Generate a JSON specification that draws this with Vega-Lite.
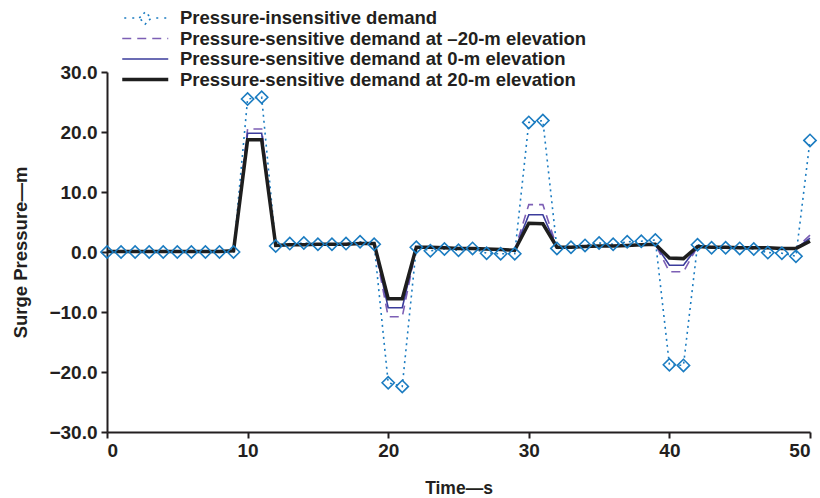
{
  "$schema": "https://vega.github.io/schema/vega-lite/v6.json",
  "width": 703,
  "height": 360,
  "autosize": {"type": "none"},
  "padding": {"left": 107, "top": 72, "right": 10, "bottom": 66},
  "background": "white",
  "config": {
    "view": {"stroke": null},
    "font": "Liberation Sans",
    "axis": {
      "domainColor": "#231f20",
      "domainWidth": 2,
      "tickColor": "#231f20",
      "tickWidth": 2,
      "tickSize": 6,
      "grid": false,
      "labelFont": "Liberation Sans",
      "labelFontSize": 19,
      "labelFontWeight": "bold",
      "labelColor": "#231f20",
      "titleFont": "Liberation Sans",
      "titleFontWeight": "bold",
      "titleColor": "#231f20"
    }
  },
  "datasets": {
    "series": [
      {"t":0,"v":0,"s":"a"},{"t":1,"v":0,"s":"a"},{"t":2,"v":0,"s":"a"},{"t":3,"v":0,"s":"a"},{"t":4,"v":0,"s":"a"},{"t":5,"v":0,"s":"a"},{"t":6,"v":0,"s":"a"},{"t":7,"v":0,"s":"a"},{"t":8,"v":0,"s":"a"},{"t":9,"v":0,"s":"a"},
      {"t":10,"v":25.5,"s":"a"},{"t":11,"v":25.8,"s":"a"},{"t":12,"v":1.0,"s":"a"},{"t":13,"v":1.4,"s":"a"},{"t":14,"v":1.5,"s":"a"},{"t":15,"v":1.3,"s":"a"},{"t":16,"v":1.3,"s":"a"},{"t":17,"v":1.4,"s":"a"},{"t":18,"v":1.7,"s":"a"},{"t":19,"v":1.3,"s":"a"},
      {"t":20,"v":-21.8,"s":"a"},{"t":21,"v":-22.4,"s":"a"},{"t":22,"v":0.8,"s":"a"},{"t":23,"v":0.2,"s":"a"},{"t":24,"v":0.5,"s":"a"},{"t":25,"v":0.3,"s":"a"},{"t":26,"v":0.6,"s":"a"},{"t":27,"v":-0.2,"s":"a"},{"t":28,"v":-0.3,"s":"a"},{"t":29,"v":-0.3,"s":"a"},
      {"t":30,"v":21.6,"s":"a"},{"t":31,"v":21.9,"s":"a"},{"t":32,"v":0.6,"s":"a"},{"t":33,"v":0.8,"s":"a"},{"t":34,"v":1.1,"s":"a"},{"t":35,"v":1.5,"s":"a"},{"t":36,"v":1.3,"s":"a"},{"t":37,"v":1.7,"s":"a"},{"t":38,"v":1.8,"s":"a"},{"t":39,"v":2.0,"s":"a"},
      {"t":40,"v":-18.8,"s":"a"},{"t":41,"v":-18.9,"s":"a"},{"t":42,"v":1.2,"s":"a"},{"t":43,"v":0.7,"s":"a"},{"t":44,"v":0.7,"s":"a"},{"t":45,"v":0.6,"s":"a"},{"t":46,"v":0.5,"s":"a"},{"t":47,"v":-0.1,"s":"a"},{"t":48,"v":-0.2,"s":"a"},{"t":49,"v":-0.7,"s":"a"},{"t":50,"v":18.6,"s":"a"},

      {"t":0,"v":0.1,"s":"b"},{"t":1,"v":0.1,"s":"b"},{"t":2,"v":0.1,"s":"b"},{"t":3,"v":0.1,"s":"b"},{"t":4,"v":0.1,"s":"b"},{"t":5,"v":0.1,"s":"b"},{"t":6,"v":0.1,"s":"b"},{"t":7,"v":0.1,"s":"b"},{"t":8,"v":0.1,"s":"b"},{"t":9,"v":0.2,"s":"b"},
      {"t":10,"v":20.5,"s":"b"},{"t":11,"v":20.5,"s":"b"},{"t":12,"v":1.1,"s":"b"},{"t":13,"v":1.2,"s":"b"},{"t":14,"v":1.2,"s":"b"},{"t":15,"v":1.3,"s":"b"},{"t":16,"v":1.3,"s":"b"},{"t":17,"v":1.3,"s":"b"},{"t":18,"v":1.4,"s":"b"},{"t":19,"v":1.4,"s":"b"},
      {"t":20,"v":-10.8,"s":"b"},{"t":21,"v":-10.8,"s":"b"},{"t":22,"v":0.8,"s":"b"},{"t":23,"v":0.8,"s":"b"},{"t":24,"v":0.7,"s":"b"},{"t":25,"v":0.6,"s":"b"},{"t":26,"v":0.6,"s":"b"},{"t":27,"v":0.5,"s":"b"},{"t":28,"v":0.4,"s":"b"},{"t":29,"v":0.3,"s":"b"},
      {"t":30,"v":7.9,"s":"b"},{"t":31,"v":7.9,"s":"b"},{"t":32,"v":0.8,"s":"b"},{"t":33,"v":0.8,"s":"b"},{"t":34,"v":0.9,"s":"b"},{"t":35,"v":1.0,"s":"b"},{"t":36,"v":1.0,"s":"b"},{"t":37,"v":1.1,"s":"b"},{"t":38,"v":1.2,"s":"b"},{"t":39,"v":1.3,"s":"b"},
      {"t":40,"v":-3.3,"s":"b"},{"t":41,"v":-3.3,"s":"b"},{"t":42,"v":0.9,"s":"b"},{"t":43,"v":0.8,"s":"b"},{"t":44,"v":0.8,"s":"b"},{"t":45,"v":0.7,"s":"b"},{"t":46,"v":0.7,"s":"b"},{"t":47,"v":0.7,"s":"b"},{"t":48,"v":0.6,"s":"b"},{"t":49,"v":0.6,"s":"b"},{"t":50,"v":2.8,"s":"b"},

      {"t":0,"v":0.1,"s":"c"},{"t":1,"v":0.1,"s":"c"},{"t":2,"v":0.1,"s":"c"},{"t":3,"v":0.1,"s":"c"},{"t":4,"v":0.1,"s":"c"},{"t":5,"v":0.1,"s":"c"},{"t":6,"v":0.1,"s":"c"},{"t":7,"v":0.1,"s":"c"},{"t":8,"v":0.1,"s":"c"},{"t":9,"v":0.2,"s":"c"},
      {"t":10,"v":19.8,"s":"c"},{"t":11,"v":19.8,"s":"c"},{"t":12,"v":1.1,"s":"c"},{"t":13,"v":1.2,"s":"c"},{"t":14,"v":1.2,"s":"c"},{"t":15,"v":1.3,"s":"c"},{"t":16,"v":1.3,"s":"c"},{"t":17,"v":1.3,"s":"c"},{"t":18,"v":1.4,"s":"c"},{"t":19,"v":1.4,"s":"c"},
      {"t":20,"v":-9.3,"s":"c"},{"t":21,"v":-9.3,"s":"c"},{"t":22,"v":0.8,"s":"c"},{"t":23,"v":0.8,"s":"c"},{"t":24,"v":0.7,"s":"c"},{"t":25,"v":0.6,"s":"c"},{"t":26,"v":0.6,"s":"c"},{"t":27,"v":0.5,"s":"c"},{"t":28,"v":0.4,"s":"c"},{"t":29,"v":0.3,"s":"c"},
      {"t":30,"v":6.2,"s":"c"},{"t":31,"v":6.2,"s":"c"},{"t":32,"v":0.8,"s":"c"},{"t":33,"v":0.8,"s":"c"},{"t":34,"v":0.9,"s":"c"},{"t":35,"v":1.0,"s":"c"},{"t":36,"v":1.0,"s":"c"},{"t":37,"v":1.1,"s":"c"},{"t":38,"v":1.2,"s":"c"},{"t":39,"v":1.3,"s":"c"},
      {"t":40,"v":-2.2,"s":"c"},{"t":41,"v":-2.2,"s":"c"},{"t":42,"v":0.9,"s":"c"},{"t":43,"v":0.8,"s":"c"},{"t":44,"v":0.8,"s":"c"},{"t":45,"v":0.7,"s":"c"},{"t":46,"v":0.7,"s":"c"},{"t":47,"v":0.7,"s":"c"},{"t":48,"v":0.6,"s":"c"},{"t":49,"v":0.6,"s":"c"},{"t":50,"v":2.3,"s":"c"},

      {"t":0,"v":0.1,"s":"d"},{"t":1,"v":0.1,"s":"d"},{"t":2,"v":0.1,"s":"d"},{"t":3,"v":0.1,"s":"d"},{"t":4,"v":0.1,"s":"d"},{"t":5,"v":0.1,"s":"d"},{"t":6,"v":0.1,"s":"d"},{"t":7,"v":0.1,"s":"d"},{"t":8,"v":0.1,"s":"d"},{"t":9,"v":0.2,"s":"d"},
      {"t":10,"v":18.7,"s":"d"},{"t":11,"v":18.7,"s":"d"},{"t":12,"v":1.1,"s":"d"},{"t":13,"v":1.2,"s":"d"},{"t":14,"v":1.2,"s":"d"},{"t":15,"v":1.3,"s":"d"},{"t":16,"v":1.3,"s":"d"},{"t":17,"v":1.3,"s":"d"},{"t":18,"v":1.4,"s":"d"},{"t":19,"v":1.4,"s":"d"},
      {"t":20,"v":-7.8,"s":"d"},{"t":21,"v":-7.8,"s":"d"},{"t":22,"v":0.8,"s":"d"},{"t":23,"v":0.8,"s":"d"},{"t":24,"v":0.7,"s":"d"},{"t":25,"v":0.6,"s":"d"},{"t":26,"v":0.6,"s":"d"},{"t":27,"v":0.5,"s":"d"},{"t":28,"v":0.4,"s":"d"},{"t":29,"v":0.3,"s":"d"},
      {"t":30,"v":4.8,"s":"d"},{"t":31,"v":4.7,"s":"d"},{"t":32,"v":0.8,"s":"d"},{"t":33,"v":0.8,"s":"d"},{"t":34,"v":0.9,"s":"d"},{"t":35,"v":1.0,"s":"d"},{"t":36,"v":1.0,"s":"d"},{"t":37,"v":1.1,"s":"d"},{"t":38,"v":1.2,"s":"d"},{"t":39,"v":1.3,"s":"d"},
      {"t":40,"v":-1.0,"s":"d"},{"t":41,"v":-1.1,"s":"d"},{"t":42,"v":0.9,"s":"d"},{"t":43,"v":0.8,"s":"d"},{"t":44,"v":0.8,"s":"d"},{"t":45,"v":0.7,"s":"d"},{"t":46,"v":0.7,"s":"d"},{"t":47,"v":0.7,"s":"d"},{"t":48,"v":0.6,"s":"d"},{"t":49,"v":0.6,"s":"d"},{"t":50,"v":1.8,"s":"d"}
    ]
  },
  "data": {"name": "series"},
  "encoding": {
    "x": {
      "field": "t",
      "type": "quantitative",
      "scale": {"domain": [0, 50], "nice": false, "zero": false},
      "axis": {
        "values": [0, 10, 20, 30, 40, 50],
        "format": "d",
        "title": "Time—s",
        "titleFontSize": 17.5,
        "labelPadding": 3,
        "titlePadding": 19
      }
    },
    "y": {
      "field": "v",
      "type": "quantitative",
      "scale": {"domain": [-30, 30], "nice": false},
      "axis": {
        "values": [-30, -20, -10, 0, 10, 20, 30],
        "format": ".1f",
        "title": "Surge Pressure—m",
        "titleFontSize": 18.5,
        "labelPadding": 4,
        "titlePadding": 18
      }
    }
  },
  "layer": [
    {
      "transform": [{"filter": "datum.s !== 'd'"}],
      "mark": {"type": "line", "strokeWidth": 1.6, "strokeCap": "butt"},
      "encoding": {
        "color": {
          "field": "s",
          "type": "nominal",
          "scale": {"domain": ["a", "b", "c", "d"], "range": ["#1b7cc1", "#7d5fb5", "#3b3c9c", "#1e1e1e"]},
          "legend": {
            "orient": "none",
            "legendX": 0,
            "legendY": -64,
            "title": null,
            "padding": 0,
            "offset": 0,
            "labelExpr": "{'a': 'Pressure-insensitive demand', 'b': 'Pressure-sensitive demand at –20-m elevation', 'c': 'Pressure-sensitive demand at 0-m elevation', 'd': 'Pressure-sensitive demand at 20-m elevation'}[datum.value]",
            "labelFont": "Liberation Sans",
            "labelFontSize": 18.5,
            "labelFontWeight": "bold",
            "labelColor": "#231f20",
            "labelLimit": 0,
            "labelOffset": 25.5,
            "symbolOffset": 29,
            "symbolSize": 400,
            "clipHeight": 20,
            "rowPadding": 0.5,
            "symbolType": "stroke",
            "encode": {
              "symbols": {
                "update": {
                  "shape": {"signal": "datum.value === 'a' ? 'M-2.1,0H-1.9M-1.3,0H-1.1M1.1,0H1.3M1.9,0H2.1M-0.6,0L0,-0.6L0.6,0L0,0.6Z' : 'M-2.3,0H2.3'"},
                  "strokeDash": {"signal": "datum.value === 'b' ? [8, 5] : [1, 0]"},
                  "strokeWidth": {"signal": "datum.value === 'd' ? 3.5 : 1.6"},
                  "fill": {"value": "transparent"},
                  "opacity": {"value": 1}
                }
              }
            }
          }
        },
        "strokeDash": {
          "field": "s",
          "type": "nominal",
          "scale": {"domain": ["a", "b", "c", "d"], "range": [[2, 4], [9, 6], [1, 0], [1, 0]]},
          "legend": null
        }
      }
    },
    {
      "transform": [{"filter": "datum.s === 'd'"}],
      "mark": {"type": "line", "strokeWidth": 3.5},
      "encoding": {
        "color": {
          "field": "s",
          "type": "nominal",
          "scale": {"domain": ["a", "b", "c", "d"], "range": ["#1b7cc1", "#7d5fb5", "#3b3c9c", "#1e1e1e"]},
          "legend": null
        }
      }
    },
    {
      "transform": [{"filter": "datum.s === 'a'"}],
      "mark": {"type": "point", "shape": "diamond", "filled": false, "size": 150, "strokeWidth": 1.6, "color": "#1b7cc1", "opacity": 1},
      "encoding": {}
    }
  ]
}
